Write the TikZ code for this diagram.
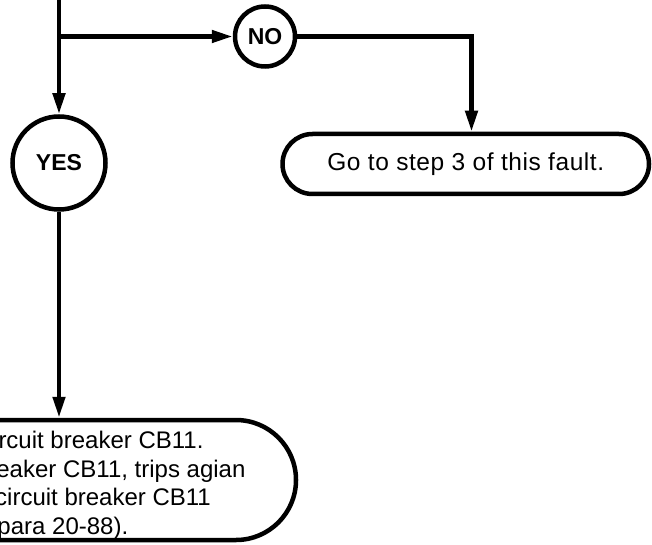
\documentclass[tikz,border=0pt]{standalone}
\usepackage{fontspec}
\setmainfont{Liberation Sans}
\usetikzlibrary{arrows.meta,shapes.misc}
\begin{document}
\begin{tikzpicture}[x=1pt,y=-1pt,
  flow/.style={line width=4.5pt},
  arr/.style={flow,-{Triangle[length=21pt,width=12pt]}},
  answer/.style={circle,draw,line width=4.5pt,inner sep=0pt,
    font=\fontsize{23}{27}\selectfont\bfseries},
  action/.style={rounded rectangle,draw,line width=4.5pt,inner sep=0pt,
    font=\fontsize{24.5}{29}\selectfont},
  linetext/.style={anchor=base west,inner sep=0pt,
    font=\fontsize{24}{28.7}\selectfont}]
\useasboundingbox (0,0) rectangle (652,545);
\clip (0,0) rectangle (652,545);

% decision outcomes
\coordinate (entry) at (59,-10);
\coordinate (split) at (59,36.5);
\node[answer,minimum size=60pt] (no) at (265,36.5) {NO};
\node[answer,minimum size=93pt] (yes) at (59,163) {YES};

% action boxes
\node[action,minimum width=366.5pt,minimum height=60pt] (goto) at (465.75,164)
  {\addfontfeatures{LetterSpace=2.3}Go to step 3 of this fault.};
\coordinate (turn) at (471.5,36.5);
\node[action,minimum width=600pt,minimum height=120pt] (reset) at (-4,480) {};
\node[linetext] (l1) at (-1.7,448) {rcuit breaker CB11.};
\node[linetext] (l2) at (-3.8,477) {eaker CB11, trips agian};
\node[linetext] (l3) at (-5,505.5) {circuit breaker CB11};
\node[linetext] (l4) at (-2.7,534) {para 20-88).};

% connectors
\draw[flow] (entry) -- (split);
\draw[arr] (split) -- (yes.north);
\draw[arr] (split) -- (no.west);
\draw[arr] (no.east) -- (turn) -- (turn |- goto.north);
\draw[arr] (yes.south) -- (yes.south |- reset.north);
\end{tikzpicture}
\end{document}
